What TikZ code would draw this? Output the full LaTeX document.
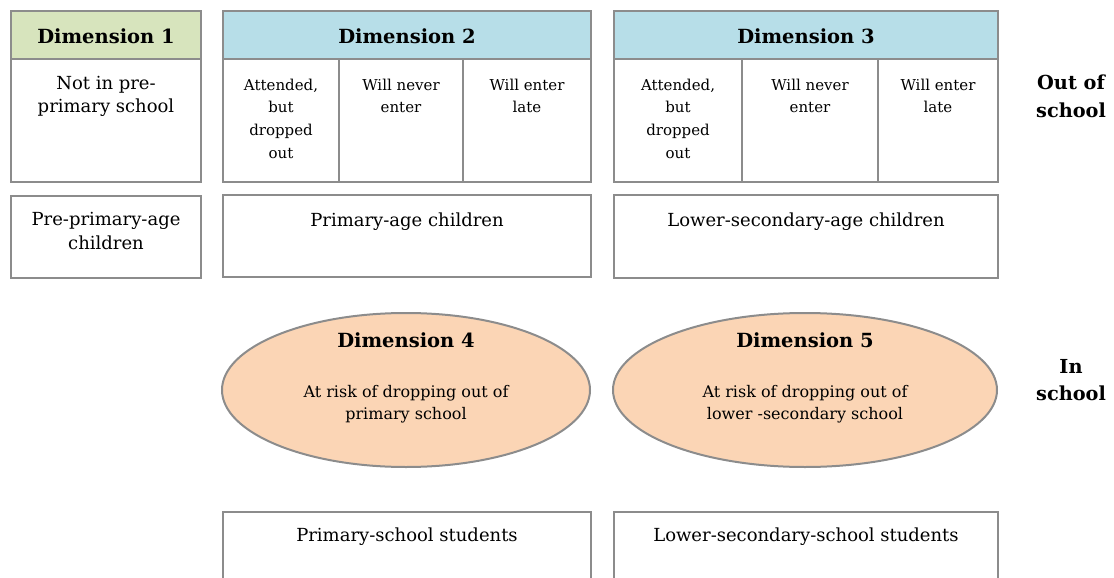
\documentclass[tikz,border=0pt]{standalone}
\usepackage{fontspec}
\setmainfont{DejaVu Serif}
\usetikzlibrary{shapes.geometric}
\definecolor{bordergray}{HTML}{8C8C8C}
\definecolor{hdgreen}{HTML}{D7E4BD}
\definecolor{hdblue}{HTML}{B7DEE8}
\definecolor{ellfill}{HTML}{FBD5B5}
\tikzset{
  box/.style={draw=bordergray, line width=2pt, rectangle, inner sep=0pt, anchor=north west},
  hdr/.style={font=\fontsize{19.5}{22}\selectfont\bfseries, anchor=center, inner sep=0pt},
  ehdr/.style={font=\fontsize{19.5}{22}\selectfont\bfseries, anchor=base, inner sep=0pt},
  txt/.style={font=\fontsize{18}{23.5}\selectfont, align=center, anchor=north, inner sep=0pt},
  small/.style={font=\fontsize{15}{22.7}\selectfont, align=center, anchor=north, inner sep=0pt},
  etxt/.style={font=\fontsize{16}{22}\selectfont, align=center, anchor=north, inner sep=0pt},
  side/.style={font=\fontsize{19.3}{27.5}\selectfont\bfseries, align=center, anchor=north, inner sep=0pt},
  oval/.style={ellipse, draw=bordergray, fill=ellfill, line width=2pt, inner sep=0pt},
}
\begin{document}
\begin{tikzpicture}[x=1pt,y=-1pt]
\useasboundingbox (0,0) rectangle (1114,578);
\clip (0,0) rectangle (1114,578);
% Dimension 1
\node[box, fill=hdgreen, minimum width=190pt, minimum height=48pt] (h1) at (10,10) {};
\node[box, minimum width=190pt, minimum height=123pt] (b1) at (10,58) {};
\node[hdr] (h1t) at ([yshift=-1pt]h1.center) {Dimension 1};
\node[txt] (b1t) at ([yshift=-18pt]b1.north) {Not in pre-\\primary school};
\node[box, minimum width=190pt, minimum height=82pt] (p1) at (10,195) {};
\node[txt] (p1t) at ([yshift=-17.5pt]p1.north) {Pre-primary-age\\children};
% Dimension 2
\node[box, fill=hdblue, minimum width=368pt, minimum height=48pt] (h2) at (222,10) {};
\node[hdr] (h2t) at ([yshift=-1pt]h2.center) {Dimension 2};
\node[box, minimum width=116pt, minimum height=123pt] (c21) at (222,58) {};
\node[box, minimum width=124pt, minimum height=123pt] (c22) at (338,58) {};
\node[box, minimum width=128pt, minimum height=123pt] (c23) at (462,58) {};
\node[small] (c21t) at ([yshift=-20.5pt]c21.north) {Attended,\\but\\dropped\\out};
\node[small] (c22t) at ([yshift=-20.5pt]c22.north) {Will never\\enter};
\node[small] (c23t) at ([yshift=-20.5pt]c23.north) {Will enter\\late};
\node[box, minimum width=368pt, minimum height=82pt] (p2) at (222,194) {};
\node[txt] (p2t) at ([yshift=-18.5pt]p2.north) {Primary-age children};
% Dimension 3
\node[box, fill=hdblue, minimum width=384pt, minimum height=48pt] (h3) at (613,10) {};
\node[hdr] (h3t) at ([yshift=-1pt]h3.center) {Dimension 3};
\node[box, minimum width=128pt, minimum height=123pt] (c31) at (613,58) {};
\node[box, minimum width=136pt, minimum height=123pt] (c32) at (741,58) {};
\node[box, minimum width=120pt, minimum height=123pt] (c33) at (877,58) {};
\node[small] (c31t) at ([yshift=-20.5pt]c31.north) {Attended,\\but\\dropped\\out};
\node[small] (c32t) at ([yshift=-20.5pt]c32.north) {Will never\\enter};
\node[small] (c33t) at ([yshift=-20.5pt]c33.north) {Will enter\\late};
\node[box, minimum width=384pt, minimum height=83pt] (p3) at (613,194) {};
\node[txt] (p3t) at ([yshift=-18.5pt]p3.north) {Lower-secondary-age children};
% Ellipses
\node[oval, minimum width=368pt, minimum height=154pt] (e4) at (406,390) {};
\node[ehdr] (e4h) at (406,347) {Dimension 4};
\node[etxt] (e4t) at (406,384.8) {At risk of dropping out of\\primary school};
\node[oval, minimum width=384pt, minimum height=154pt] (e5) at (805,390) {};
\node[ehdr] (e5h) at (805,347) {Dimension 5};
\node[etxt] (e5t) at (805,384.8) {At risk of dropping out of\\lower -secondary school};
% Bottom boxes
\node[box, minimum width=368pt, minimum height=90pt] (s4) at (222,511) {};
\node[txt] (s4t) at ([yshift=-17pt]s4.north) {Primary-school students};
\node[box, minimum width=384pt, minimum height=90pt] (s5) at (613,511) {};
\node[txt] (s5t) at ([yshift=-17pt]s5.north) {Lower-secondary-school students};
% Side labels
\node[side] (out) at (1071,74.8) {Out of\\school};
\node[side] (in) at (1071,358.9) {In\\school};
\end{tikzpicture}
\end{document}
